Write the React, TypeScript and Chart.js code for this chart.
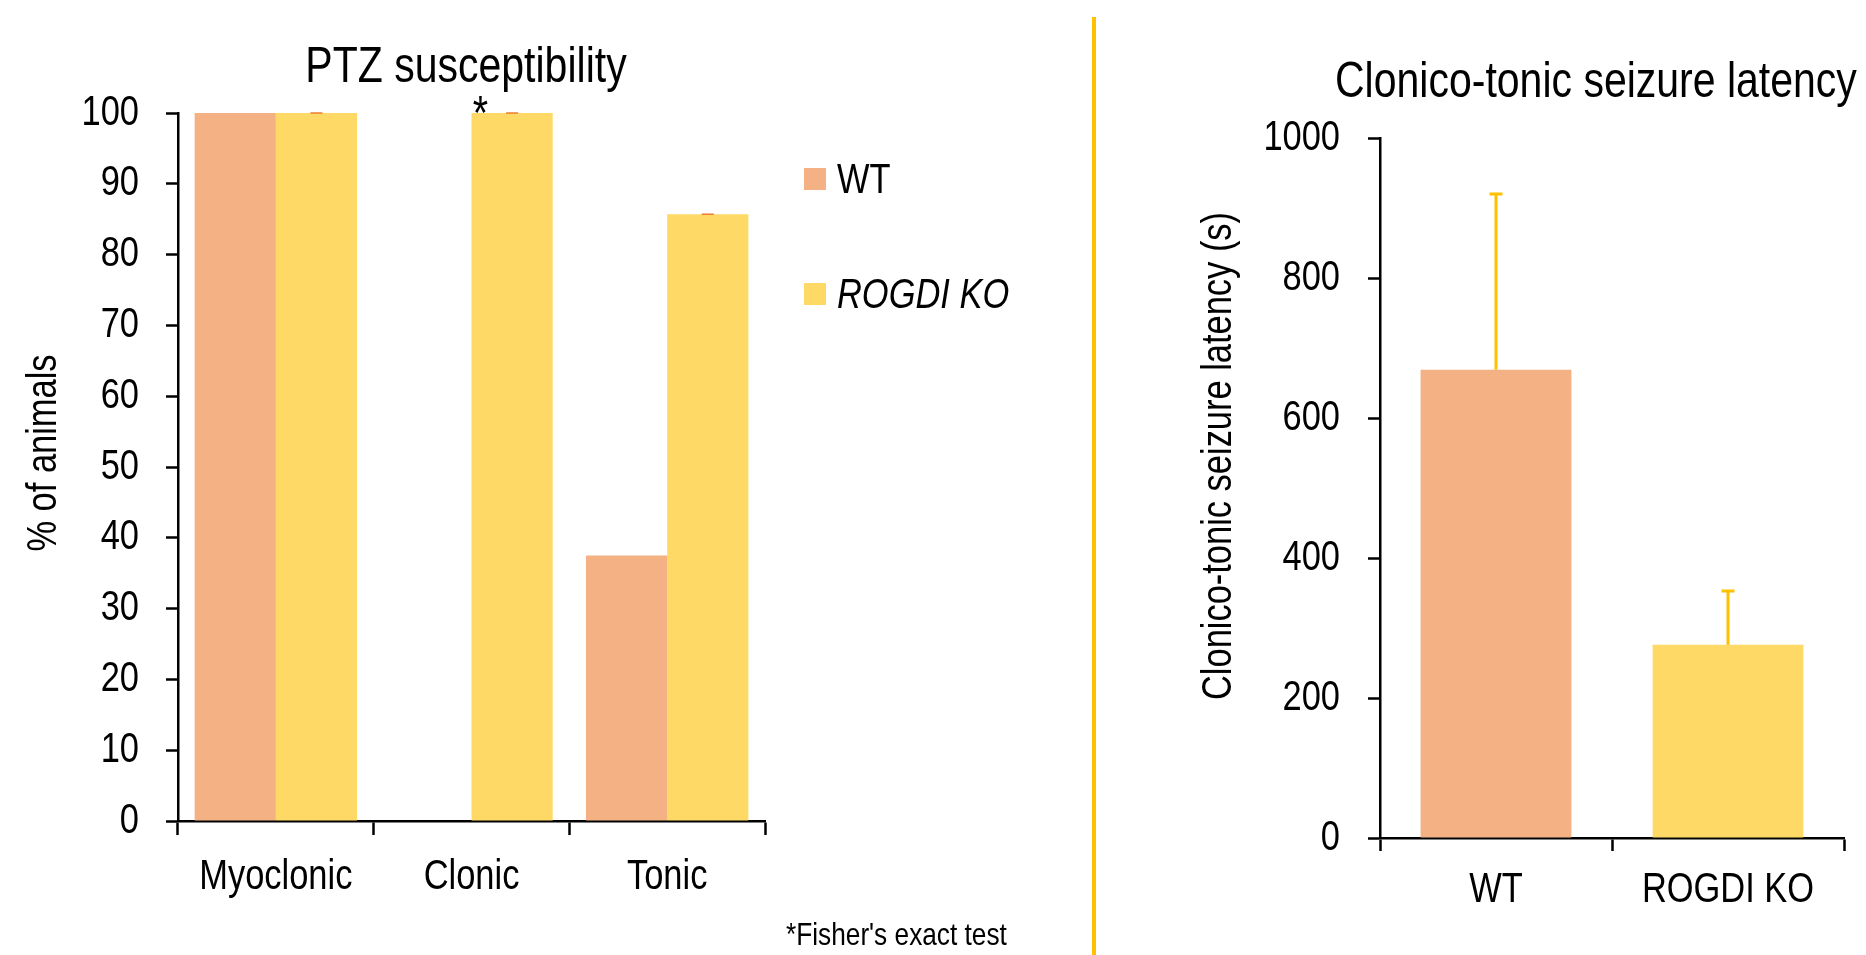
import React, { useEffect, useRef } from "react";
import { Chart, registerables } from "chart.js";

Chart.register(...registerables);

// ---------- data ----------
const seizureTypes = ["Myoclonic", "Clonic", "Tonic"];
const genotypes = ["WT", "ROGDI KO"];
const wtPercent = [100, 0, 37.5];
const koPercent = [100, 100, 85.7];
const koPercentErr = [0, 0, 0];
const percentMin = 0;
const percentMax = 100;
const percentStep = 10;

const latencyGroups = ["WT", "ROGDI KO"];
const latencyMean = [669, 276];
const latencyErr = [251, 77];
const latencyMin = 0;
const latencyMax = 1000;
const latencyStep = 200;

const leftTitle = "PTZ susceptibility";
const leftYTitle = "% of animals";
const rightTitle = "Clonico-tonic seizure latency";
const rightYTitle = "Clonico-tonic seizure latency (s)";
const footnote = "*Fisher's exact test";
const significance = "*";

// ---------- styles ----------
const FONT = "'Liberation Sans Narrow', 'Arial Narrow', 'Liberation Sans', Arial, sans-serif";
const NARROW_FACTOR = 0.82; // emulate a narrow face by condensing glyphs horizontally
const WT_COLOR = "#F4B183";
const KO_COLOR = "#FFD966";
const GOLD = "#FFC000";
const SMALL_ERR = "#ED7D31";
const AXIS_W = 2.5;

// condense every text run drawn on the chart canvas (tick labels and annotations)
const narrowTextPlugin = {
  id: "narrowText",
  beforeInit(chart: any) {
    const ctx = chart.ctx as any;
    if (ctx.__narrow) return;
    ctx.__narrow = true;
    const orig = ctx.fillText.bind(ctx);
    ctx.fillText = (text: string, x: number, y: number, maxWidth?: number) => {
      ctx.save();
      ctx.translate(x, y);
      ctx.scale(NARROW_FACTOR, 1);
      if (maxWidth !== undefined) orig(text, 0, 0, maxWidth / NARROW_FACTOR);
      else orig(text, 0, 0);
      ctx.restore();
    };
  },
};

type TextItem = {
  text: string;
  x: number;
  y: number;
  size: number;
  align?: CanvasTextAlign;
  baseline?: CanvasTextBaseline;
  rotate?: boolean;
  italic?: boolean;
};

const drawText = (ctx: CanvasRenderingContext2D, t: TextItem) => {
  ctx.save();
  ctx.font = `${t.italic ? "italic " : ""}${t.size}px ${FONT}`;
  ctx.fillStyle = "#000";
  ctx.textAlign = t.align || "center";
  ctx.textBaseline = t.baseline || "alphabetic";
  if (t.rotate) {
    ctx.translate(t.x, t.y);
    ctx.rotate(-Math.PI / 2);
    ctx.fillText(t.text, 0, 0);
  } else {
    ctx.fillText(t.text, t.x, t.y);
  }
  ctx.restore();
};

const textPlugin = (items: (chart: any) => TextItem[]) => ({
  id: "figureText",
  afterDraw(chart: any) {
    const ctx = chart.ctx as CanvasRenderingContext2D;
    items(chart).forEach((t) => drawText(ctx, t));
  },
});

const errorBarPlugin = {
  id: "errorBars",
  afterDatasetsDraw(chart: any) {
    const ctx = chart.ctx as CanvasRenderingContext2D;
    const yScale = chart.scales.y;
    chart.data.datasets.forEach((ds: any, i: number) => {
      if (!ds.errors) return;
      const meta = chart.getDatasetMeta(i);
      ds.errors.forEach((err: number, j: number) => {
        const el = meta.data[j];
        const v = ds.data[j];
        const x = el.x;
        const y0 = yScale.getPixelForValue(v);
        const y1 = yScale.getPixelForValue(v + err);
        ctx.save();
        ctx.strokeStyle = ds.errorColor;
        ctx.lineWidth = ds.errorWidth;
        ctx.beginPath();
        if (err > 0) {
          ctx.moveTo(x, y0);
          ctx.lineTo(x, y1);
        }
        ctx.moveTo(x - ds.capWidth / 2, y1);
        ctx.lineTo(x + ds.capWidth / 2, y1);
        ctx.stroke();
        ctx.restore();
      });
    });
  },
};

const legendPlugin = {
  id: "sideLegend",
  afterDraw(chart: any) {
    const ctx = chart.ctx as CanvasRenderingContext2D;
    const italics = [false, true];
    chart.data.datasets.forEach((ds: any, i: number) => {
      const boxTop = 168 + i * 115;
      ctx.save();
      ctx.fillStyle = ds.backgroundColor;
      ctx.fillRect(804, boxTop, 22, 22);
      ctx.restore();
      drawText(ctx, {
        text: ds.label,
        x: 837,
        y: boxTop + 25,
        size: 42,
        align: "left",
        italic: italics[i],
      });
    });
  },
};

const tickFont = { family: FONT, size: 42 };
const plainNumber = (v: any) => String(v);

const LeftChart: React.FC = () => {
  const ref = useRef<HTMLCanvasElement>(null);
  useEffect(() => {
    if (!ref.current) return;
    const chart = new Chart(ref.current, {
      type: "bar",
      data: {
        labels: seizureTypes,
        datasets: [
          { label: genotypes[0], data: wtPercent, backgroundColor: WT_COLOR, borderWidth: 0 } as any,
          {
            label: genotypes[1],
            data: koPercent,
            backgroundColor: KO_COLOR,
            borderWidth: 0,
            errors: koPercentErr,
            errorColor: SMALL_ERR,
            errorWidth: 1.5,
            capWidth: 12,
          } as any,
        ],
      },
      options: {
        responsive: false,
        animation: false,
        devicePixelRatio: 1,
        layout: { padding: { left: 0, top: 113, right: 325, bottom: 0 } },
        datasets: { bar: { categoryPercentage: 0.83, barPercentage: 1 } },
        plugins: { legend: { display: false }, tooltip: { enabled: false }, title: { display: false } },
        scales: {
          x: {
            type: "category",
            offset: true,
            grid: {
              offset: true,
              drawOnChartArea: false,
              drawTicks: true,
              tickLength: 14,
              tickWidth: AXIS_W,
              tickColor: "#000",
              color: "#000",
            },
            border: { display: true, color: "#000", width: AXIS_W },
            ticks: { font: tickFont, color: "#000", padding: 17, maxRotation: 0, autoSkip: false },
            afterFit: (s: any) => {
              s.height = 134;
            },
          },
          y: {
            min: percentMin,
            max: percentMax,
            ticks: { stepSize: percentStep, font: tickFont, color: "#000", padding: 27, callback: plainNumber },
            grid: {
              drawOnChartArea: false,
              drawTicks: true,
              tickLength: 12,
              tickWidth: AXIS_W,
              tickColor: "#000",
              color: "#000",
            },
            border: { display: true, color: "#000", width: AXIS_W },
            afterFit: (s: any) => {
              s.width = 178;
            },
          },
        },
      },
      plugins: [
        narrowTextPlugin,
        errorBarPlugin,
        legendPlugin,
        textPlugin((c: any) => [
          { text: leftTitle, x: 466, y: 82, size: 50 },
          { text: leftYTitle, x: 44, y: 453, size: 42, rotate: true, baseline: "middle" },
          {
            text: significance,
            x: c.scales.x.getPixelForValue(1) + 9,
            y: c.scales.y.getPixelForValue(percentMax) + 16,
            size: 48,
          },
          { text: footnote, x: 786, y: 945, size: 32, align: "left" },
        ]),
      ],
    } as any);
    return () => chart.destroy();
  }, []);
  return (
    <canvas
      ref={ref}
      width={1090}
      height={955}
      style={{ position: "absolute", left: 0, top: 0, width: 1090, height: 955 }}
    />
  );
};

const RightChart: React.FC = () => {
  const ref = useRef<HTMLCanvasElement>(null);
  useEffect(() => {
    if (!ref.current) return;
    const chart = new Chart(ref.current, {
      type: "bar",
      data: {
        labels: latencyGroups,
        datasets: [
          {
            label: "Latency",
            data: latencyMean,
            backgroundColor: [WT_COLOR, KO_COLOR],
            borderWidth: 0,
            errors: latencyErr,
            errorColor: GOLD,
            errorWidth: 3,
            capWidth: 13,
          } as any,
        ],
      },
      options: {
        responsive: false,
        animation: false,
        devicePixelRatio: 1,
        layout: { padding: { left: 0, top: 138, right: 22, bottom: 0 } },
        datasets: { bar: { categoryPercentage: 0.65, barPercentage: 1 } },
        plugins: { legend: { display: false }, tooltip: { enabled: false }, title: { display: false } },
        scales: {
          x: {
            type: "category",
            offset: true,
            grid: {
              offset: true,
              drawOnChartArea: false,
              drawTicks: true,
              tickLength: 13,
              tickWidth: AXIS_W,
              tickColor: "#000",
              color: "#000",
            },
            border: { display: true, color: "#000", width: AXIS_W },
            ticks: { font: tickFont, color: "#000", padding: 14, maxRotation: 0, autoSkip: false },
            afterFit: (s: any) => {
              s.height = 117;
            },
          },
          y: {
            min: latencyMin,
            max: latencyMax,
            ticks: { stepSize: latencyStep, font: tickFont, color: "#000", padding: 28, callback: plainNumber },
            grid: {
              drawOnChartArea: false,
              drawTicks: true,
              tickLength: 12,
              tickWidth: AXIS_W,
              tickColor: "#000",
              color: "#000",
            },
            border: { display: true, color: "#000", width: AXIS_W },
            afterFit: (s: any) => {
              s.width = 280;
            },
          },
        },
      },
      plugins: [
        narrowTextPlugin,
        errorBarPlugin,
        textPlugin(() => [
          { text: rightTitle, x: 235, y: 97, size: 50, align: "left" },
          { text: rightYTitle, x: 119, y: 456, size: 42, rotate: true, baseline: "middle" },
        ]),
      ],
    } as any);
    return () => chart.destroy();
  }, []);
  return (
    <canvas
      ref={ref}
      width={766}
      height={955}
      style={{ position: "absolute", left: 1100, top: 0, width: 766, height: 955 }}
    />
  );
};

const App: React.FC = () => {
  return (
    <div
      style={{
        position: "absolute",
        left: 0,
        top: 0,
        width: 1866,
        height: 955,
        background: "#fff",
        overflow: "hidden",
      }}
    >
      <LeftChart />
      <div
        style={{
          position: "absolute",
          left: 1092,
          top: 17,
          width: 4,
          height: 938,
          background: GOLD,
        }}
      />
      <RightChart />
    </div>
  );
};

export default App;
